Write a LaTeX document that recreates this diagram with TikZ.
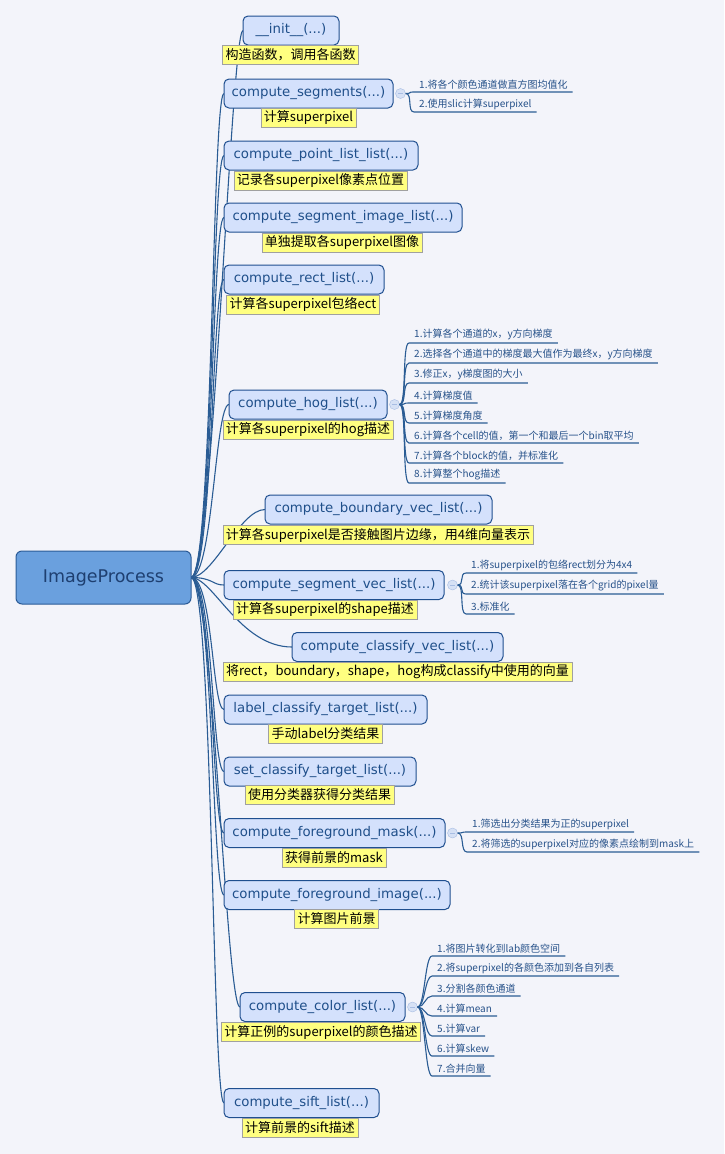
\documentclass[tikz,border=0pt]{standalone}
\usepackage{fontspec}
\setmainfont{DejaVu Sans}
\newfontfamily\cjk{Noto Sans CJK SC}

\definecolor{bgcol}{HTML}{F3F4FA}
\definecolor{fnfill}{HTML}{D4E1FC}
\definecolor{fnline}{HTML}{1F4F8F}
\definecolor{fntext}{HTML}{1F4F8A}
\definecolor{rootfill}{HTML}{6AA0DE}
\definecolor{rootline}{HTML}{2B5B97}
\definecolor{roottext}{HTML}{1E3F70}
\definecolor{notefill}{HTML}{FFFF80}
\definecolor{noteline}{HTML}{A0A0A0}
\definecolor{branch}{HTML}{2A5C94}
\definecolor{foldfill}{HTML}{D6E1F5}
\definecolor{foldline}{HTML}{A8BDE3}
\definecolor{leaftext}{HTML}{27528A}

\tikzset{
  rootbox/.style={draw=rootline, fill=rootfill, rounded corners=6pt, line width=1pt,
    minimum width=175pt, minimum height=53pt, text=roottext, font=\fontsize{17.5}{20}\selectfont},
  fnbox/.style={draw=fnline, fill=fnfill, rounded corners=5pt, line width=1pt,
    minimum height=29pt, text=fntext, font=\fontsize{13.3}{15}\selectfont},
  notebox/.style={draw=noteline, fill=notefill, inner xsep=3pt, inner ysep=1pt,
    minimum height=19pt, text=black, font=\cjk\fontsize{13}{15}\selectfont},
  leaf/.style={anchor=south west, inner xsep=5pt, inner ysep=2.5pt, text=leaftext,
    font=\cjk\fontsize{10}{12}\selectfont},
  fold/.style={circle, draw=foldline, fill=foldfill, minimum size=10pt, inner sep=0pt,
    path picture={\draw[foldline,line width=0.8pt]
      ([xshift=-2.5pt]path picture bounding box.center) --
      ([xshift=2.5pt]path picture bounding box.center);}},
  twig/.style={draw=branch, line width=1.1pt},
}

\begin{document}
\begin{tikzpicture}[x=1pt,y=-1pt]

        \fill[bgcol] (0,0) rectangle (724,1154);
        \useasboundingbox (0,0) rectangle (724,1154);

        % connectors from the root
        \begin{scope}[every path/.style={draw=branch, line width=1.1pt}]
          \coordinate (r) at (191,577.5);
          \draw (r) .. controls (213,577.5) and (231,30.5) .. (243,30.5);
          \draw (r) .. controls (213,577.5) and (212,93.5) .. (224,93.5);
          \draw (r) .. controls (213,577.5) and (212,155.5) .. (224,155.5);
          \draw (r) .. controls (213,577.5) and (212,217.5) .. (224,217.5);
          \draw (r) .. controls (213,577.5) and (212,279.5) .. (224,279.5);
          \draw (r) .. controls (213,577.5) and (215,404.5) .. (229,404.5);
          \draw (r) .. controls (213,577.5) and (240,509.5) .. (265,509.5);
          \draw (r) .. controls (213,577.5) and (212,585) .. (224,585);
          \draw (r) .. controls (213,577.5) and (240,647) .. (292,647);
          \draw (r) .. controls (213,577.5) and (212,709.5) .. (224,709.5);
          \draw (r) .. controls (213,577.5) and (212,771.5) .. (224,771.5);
          \draw (r) .. controls (213,577.5) and (212,833) .. (224,833);
          \draw (r) .. controls (213,577.5) and (212,895) .. (224,895);
          \draw (r) .. controls (213,577.5) and (226,1007) .. (240,1007);
          \draw (r) .. controls (213,577.5) and (212,1103) .. (224,1103);
        \end{scope}

        \node[rootbox] (root) at (103.5,577.5) {ImageProcess};

        \begin{scope}[every node/.style={fnbox}]
          \node[minimum width=96pt]  (f1)  at (291,30.5)   {\_\_init\_\_(...)};
          \node[minimum width=169pt] (f2)  at (308.5,93.5) {compute\_segments(...)};
          \node[minimum width=194pt] (f3)  at (321,155.5)  {compute\_point\_list\_list(...)};
          \node[minimum width=238pt] (f4)  at (343,217.5)  {compute\_segment\_image\_list(...)};
          \node[minimum width=160pt] (f5)  at (304,279.5)  {compute\_rect\_list(...)};
          \node[minimum width=158pt] (f6)  at (308,404.5)  {compute\_hog\_list(...)};
          \node[minimum width=227pt] (f7)  at (378.5,509.5) {compute\_boundary\_vec\_list(...)};
          \node[minimum width=220pt] (f8)  at (334,585)    {compute\_segment\_vec\_list(...)};
          \node[minimum width=211pt] (f9)  at (397.5,647)  {compute\_classify\_vec\_list(...)};
          \node[minimum width=203pt] (f10) at (325.5,709.5) {label\_classify\_target\_list(...)};
          \node[minimum width=192pt] (f11) at (320,771.5)  {set\_classify\_target\_list(...)};
          \node[minimum width=221pt] (f12) at (334.5,833)  {compute\_foreground\_mask(...)};
          \node[minimum width=226pt] (f13) at (337,895)    {compute\_foreground\_image(...)};
          \node[minimum width=165pt] (f14) at (322.5,1007) {compute\_color\_list(...)};
          \node[minimum width=155pt] (f15) at (301.5,1103) {compute\_sift\_list(...)};
        \end{scope}

        \begin{scope}[every node/.style={notebox}]
          \node (n1)  at (290.5,54.5)  {构造函数，调用各函数};
          \node (n2)  at (308.5,117.5) {计算superpixel};
          \node (n3)  at (320.5,180.5) {记录各superpixel像素点位置};
          \node (n4)  at (342,242.5)   {单独提取各superpixel图像};
          \node (n5)  at (303,304.5)   {计算各superpixel包络ect};
          \node (n6)  at (308,429.5)   {计算各superpixel的hog描述};
          \node (n7)  at (378,535)     {计算各superpixel是否接触图片边缘，用4维向量表示};
          \node (n8)  at (325,609.5)   {计算各superpixel的shape描述};
          \node (n9)  at (397.5,672)   {将rect，boundary，shape，hog构成classify中使用的向量};
          \node (n10) at (325.5,734)   {手动label分类结果};
          \node (n11) at (319.5,795)   {使用分类器获得分类结果};
          \node (n12) at (334,857.5)   {获得前景的mask};
          \node (n13) at (336.5,919)   {计算图片前景};
          \node (n14) at (321,1032)    {计算正例的superpixel的颜色描述};
          \node (n15) at (300,1128)    {计算前景的sift描述};
        \end{scope}

        % fold markers
        \begin{scope}[every node/.style={fold}]
          \node (c2)  at ([xshift=7pt]f2.east)  {};
          \node (c6)  at ([xshift=7pt]f6.east)  {};
          \node (c8)  at ([xshift=8pt]f8.east)  {};
          \node (c12) at ([xshift=7pt]f12.east) {};
          \node (c14) at ([xshift=7pt]f14.east) {};
        \end{scope}

        % detail items
        \begin{scope}[every node/.style={leaf}]
          \node (s1) at (414,92)  {1.将各个颜色通道做直方图均值化};
          \node (s2) at (414,112) {2.使用slic计算superpixel};

          \node (h1) at (409,343) {1.计算各个通道的x，y方向梯度};
          \node (h2) at (409,363) {2.选择各个通道中的梯度最大值作为最终x，y方向梯度};
          \node (h3) at (409,383) {3.修正x，y梯度图的大小};
          \node (h4) at (409,403) {4.计算梯度值};
          \node (h5) at (409,423) {5.计算梯度角度};
          \node (h6) at (409,443) {6.计算各个cell的值，第一个和最后一个bin取平均};
          \node (h7) at (409,463) {7.计算各个block的值，并标准化};
          \node (h8) at (409,483) {8.计算整个hog描述};

          \node (v1) at (466,573) {1.将superpixel的包络rect划分为4x4};
          \node (v2) at (466,594) {2.统计该superpixel落在各个grid的pixel量};
          \node (v3) at (466,614) {3.标准化};

          \node (m1) at (467,832) {1.筛选出分类结果为正的superpixel};
          \node (m2) at (467,852) {2.将筛选的superpixel对应的像素点绘制到mask上};

          \node (k1) at (432,956)  {1.将图片转化到lab颜色空间};
          \node (k2) at (432,976)  {2.将superpixel的各颜色添加到各自列表};
          \node (k3) at (432,996)  {3.分割各颜色通道};
          \node (k4) at (432,1016) {4.计算mean};
          \node (k5) at (432,1036) {5.计算var};
          \node (k6) at (432,1056) {6.计算skew};
          \node (k7) at (432,1076) {7.合并向量};
        \end{scope}

        \begin{scope}[every path/.style={twig}]
          \foreach \c/\l in {c2/s1,c2/s2,
              c6/h1,c6/h2,c6/h3,c6/h4,c6/h5,c6/h6,c6/h7,c6/h8,
              c8/v1,c8/v2,c8/v3,
              c12/m1,c12/m2,
              c14/k1,c14/k2,c14/k3,c14/k4,c14/k5,c14/k6,c14/k7}
            \draw (\c.east) .. controls +(7,0) and +(-7,0) .. (\l.south west) -- (\l.south east);
        \end{scope}

      \end{tikzpicture}
\end{document}
